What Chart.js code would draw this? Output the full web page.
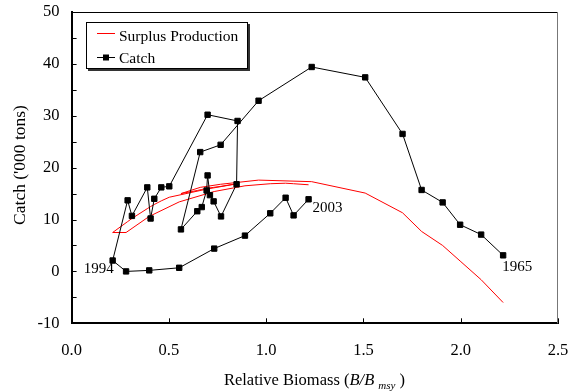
<!DOCTYPE html>
<html>
<head>
<meta charset="utf-8">
<script src="https://cdn.jsdelivr.net/npm/chart.js@4.4.1/dist/chart.umd.min.js"></script>
<style>
  html, body { margin: 0; padding: 0; background: #fff; }
  #wrap { width: 574px; height: 392px; position: relative; }
</style>
</head>
<body>
<div id="wrap"><canvas id="spChart"></canvas></div>
<script>
// one entry per year, 1965 .. 2003
var years = []
for (var yr = 1965; yr <= 2003; yr++) years.push(yr)

var biomass = [2.218, 2.105, 1.997, 1.907, 1.799, 1.701, 1.509, 1.234, 0.961, 0.766,
  0.661, 0.562, 0.646, 0.669, 0.694, 0.699, 0.711, 0.730, 0.768, 0.848,
  0.853, 0.699, 0.502, 0.461, 0.425, 0.406, 0.389, 0.310, 0.288, 0.211,
  0.280, 0.399, 0.553, 0.733, 0.891, 1.021, 1.100, 1.141, 1.218]

var catchTons = [3.1, 7.1, 9.0, 13.3, 15.7, 26.5, 37.4, 39.4, 32.9, 24.4,
  23.0, 8.1, 11.6, 12.4, 15.6, 18.5, 14.7, 13.5, 10.6, 16.8,
  29.0, 30.2, 16.4, 16.2, 14.0, 10.2, 16.2, 10.7, 13.7, 2.1,
  0.0, 0.2, 0.7, 4.4, 6.9, 11.2, 14.2, 10.8, 13.9]

var surplus = [-6.0, -1.6, 2.0, 5.0, 7.7, 11.3, 15.1, 17.3, 17.6, 16.8,
  16.2, 15.0, 15.6, 15.8, 16.0, 16.1, 16.1, 16.2, 16.4, 16.9,
  16.9, 15.9, 14.3, 13.6, 12.9, 12.5, 12.1, 10.2, 9.6, 7.5,
  7.5, 10.6, 13.4, 15.4, 16.5, 16.9, 17.0, 16.9, 16.7]

var xTicks = [0, 0.5, 1.0, 1.5, 2.0, 2.5]
var yTicks = [-10, 0, 10, 20, 30, 40, 50]
var yearLabels = [1965, 1994, 2003]

var serif = "'Liberation Serif', 'Times New Roman', serif"

function toPoints(ys) {
  return biomass.map(function (b, i) { return { x: b, y: ys[i] } })
}

// fixed axis box sizes so the plot area sits where it should
function fixBox(size) {
  return function (s) {
    if (s.isHorizontal()) s.height = size
    else s.width = size
    s.paddingTop = 0
    s.paddingBottom = 0
    s.paddingLeft = 0
    s.paddingRight = 0
  }
}

// frame, inward ticks, year labels, legend and axis titles
var decorPlugin = {
  id: 'decor',
  afterDraw: function (chart) {
    var ctx = chart.ctx
    var area = chart.chartArea
    var xs = chart.scales.x
    var ys = chart.scales.y
    ctx.save()

    // top and right edges of the frame
    ctx.strokeStyle = '#000'
    ctx.lineWidth = 1
    ctx.beginPath()
    ctx.moveTo(area.left, area.top + 0.5)
    ctx.lineTo(area.right, area.top + 0.5)
    ctx.stroke()
    ctx.strokeStyle = '#777'
    ctx.beginPath()
    ctx.moveTo(area.right - 0.5, area.top)
    ctx.lineTo(area.right - 0.5, area.bottom)
    ctx.stroke()

    // tick marks pointing into the plot
    ctx.strokeStyle = '#000'
    ctx.lineWidth = 1
    xTicks.forEach(function (v) {
      if (v === xTicks[0]) return
      var px = Math.round(xs.getPixelForValue(v)) + 0.5
      ctx.beginPath()
      ctx.moveTo(px, area.bottom)
      ctx.lineTo(px, area.bottom - 5)
      ctx.stroke()
    })
    for (var v = -10; v <= 50; v += 5) {
      var py = Math.round(ys.getPixelForValue(v)) + 0.5
      ctx.beginPath()
      ctx.moveTo(area.left, py)
      ctx.lineTo(area.left + 5, py)
      ctx.stroke()
    }

    // year labels next to the catch points
    ctx.fillStyle = '#000'
    ctx.font = '15px ' + serif
    ctx.textBaseline = 'alphabetic'
    yearLabels.forEach(function (y) {
      var i = years.indexOf(y)
      var px = xs.getPixelForValue(biomass[i])
      var py = ys.getPixelForValue(catchTons[i])
      if (y === 1994) {
        ctx.textAlign = 'right'
        ctx.fillText(String(y), px + 1, py + 12)
      } else if (y === 2003) {
        ctx.textAlign = 'left'
        ctx.fillText(String(y), px + 4, py + 13)
      } else {
        ctx.textAlign = 'left'
        ctx.fillText(String(y), px - 1, py + 16)
      }
    })

    // legend box with drop shadow
    var lx = 86, ly = 22, lw = 162, lh = 47
    ctx.fillStyle = '#333'
    ctx.fillRect(lx + 2, ly + 2, lw, lh)
    ctx.fillStyle = '#fff'
    ctx.fillRect(lx, ly, lw, lh)
    ctx.strokeStyle = '#000'
    ctx.lineWidth = 1
    ctx.strokeRect(lx + 0.5, ly + 0.5, lw - 1, lh - 1)

    ctx.strokeStyle = '#ff0000'
    ctx.beginPath()
    ctx.moveTo(97, 33.5)
    ctx.lineTo(115, 33.5)
    ctx.stroke()
    ctx.strokeStyle = '#000'
    ctx.beginPath()
    ctx.moveTo(97, 57.5)
    ctx.lineTo(115, 57.5)
    ctx.stroke()
    ctx.fillStyle = '#000'
    ctx.fillRect(103, 54.5, 6, 6)

    ctx.font = '15.5px ' + serif
    ctx.textAlign = 'left'
    ctx.fillText('Surplus Production', 119, 41)
    ctx.fillText('Catch', 119, 63)

    // y axis title
    ctx.save()
    ctx.translate(20, 165)
    ctx.rotate(-Math.PI / 2)
    ctx.font = '17.5px ' + serif
    ctx.textAlign = 'center'
    ctx.textBaseline = 'middle'
    ctx.fillText("Catch ('000 tons)", 0, 0)
    ctx.restore()

    // x axis title with italic B/B and subscript msy
    var parts = [
      { t: 'Relative Biomass (', f: '16.5px ' + serif, dy: 0 },
      { t: 'B/B', f: 'italic 16.5px ' + serif, dy: 0 },
      { t: ' ', f: '16.5px ' + serif, dy: 0 },
      { t: 'msy', f: 'italic 11px ' + serif, dy: 4 },
      { t: ' )', f: '16.5px ' + serif, dy: 0 }
    ]
    var total = 0
    parts.forEach(function (p) { ctx.font = p.f; p.w = ctx.measureText(p.t).width; total += p.w })
    var tx = 314.5 - total / 2
    ctx.textAlign = 'left'
    ctx.textBaseline = 'alphabetic'
    parts.forEach(function (p) {
      ctx.font = p.f
      ctx.fillText(p.t, tx, 385 + p.dy)
      tx += p.w
    })

    ctx.restore()
  }
}

const config = {
  type: 'scatter',
  data: {
    datasets: [{
      label: 'Surplus Production',
      data: toPoints(surplus),
      showLine: true,
      borderColor: '#ff0000',
      borderWidth: 1,
      pointRadius: 0,
      tension: 0,
      order: 1
    }, {
      label: 'Catch',
      data: toPoints(catchTons),
      showLine: true,
      borderColor: '#000',
      borderWidth: 1,
      backgroundColor: '#000',
      pointStyle: 'rect',
      pointRadius: 3.8,
      pointBorderWidth: 1,
      pointBorderColor: '#000',
      pointBackgroundColor: '#000',
      tension: 0,
      order: 0
    }]
  },
  options: {
    responsive: true,
    maintainAspectRatio: false,
    animation: false,
    events: [],
    layout: { padding: { left: 0, right: 16, top: 12, bottom: 0 } },
    plugins: {
      legend: { display: false },
      tooltip: { enabled: false }
    },
    scales: {
      x: {
        type: 'linear',
        min: 0,
        max: 2.5,
        grid: { display: false, drawTicks: false },
        border: { display: true, color: '#000', width: 2 },
        ticks: {
          stepSize: 0.5,
          padding: 17,
          color: '#000',
          font: { family: serif, size: 16.5 },
          callback: function (v) { return v.toFixed(1) }
        },
        afterFit: fixBox(68.7)
      },
      y: {
        type: 'linear',
        min: -10,
        max: 50,
        grid: { display: false, drawTicks: false },
        border: { display: true, color: '#000', width: 2 },
        ticks: {
          stepSize: 10,
          padding: 12,
          color: '#000',
          font: { family: serif, size: 16.5 },
          callback: function (v) { return yTicks.indexOf(v) >= 0 ? String(v) : '' }
        },
        afterFit: fixBox(71.6)
      }
    }
  },
  plugins: [decorPlugin]
}

const spChart = new Chart(document.getElementById('spChart'), config)
</script>
</body>
</html>
